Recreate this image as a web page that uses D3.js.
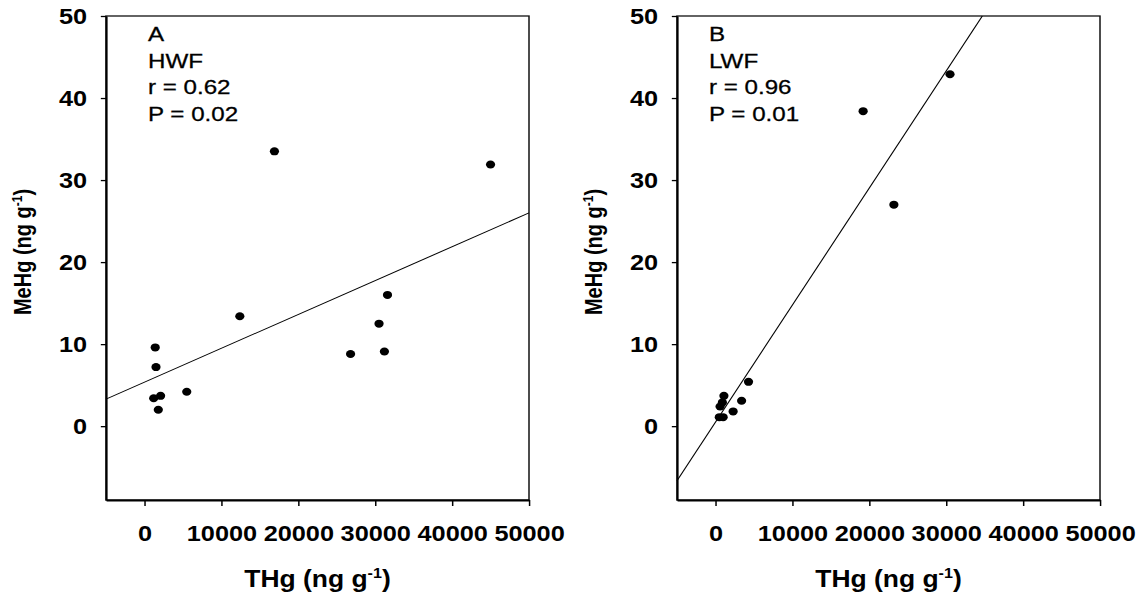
<!DOCTYPE html>
<html>
<head>
<meta charset="utf-8">
<script src="https://cdn.jsdelivr.net/npm/d3@7"></script>
<style>
    body { margin: 0; background: #fff; }
    text { font-family: Arial, "Liberation Sans", sans-serif; fill: #000; }
</style>
</head>
<body>
<div id="chart"></div>
<script>
// values
const xTicks = [0, 10000, 20000, 30000, 40000, 50000]
const yTicks = [0, 10, 20, 30, 40, 50]
const xDomain = [-5000, 50000]
const yDomain = [-9, 50]

const hwfTHg = [16900, 45000, 31600, 12400, 30500, 31200, 26800, 1400, 1500, 1200, 2100, 1800, 5500]
const hwfMeHg = [33.5, 31.9, 16.0, 13.4, 12.5, 9.1, 8.8, 9.6, 7.2, 3.4, 3.7, 2.0, 4.2]
const hwfFit = [[-5000, 3.3], [50000, 26.0]]
const hwfLabels = ["A", "HWF", "r = 0.62", "P = 0.02"]

const lwfTHg = [19200, 30500, 23200, 4300, 1100, 900, 600, 3400, 2300, 500, 1000]
const lwfMeHg = [38.4, 42.9, 27.0, 5.4, 3.7, 2.9, 2.4, 3.1, 1.8, 1.1, 1.1]
const lwfFit = [[-5000, -6.65], [34700, 50]]
const lwfLabels = ["B", "LWF", "r = 0.96", "P = 0.01"]

// the original picture is stretched sideways, so draw in a narrower viewBox
const SX = 1.15
const W = 1138, H = 596

const svg = d3.select("#chart")
    .append("svg")
    .attr("width", W)
    .attr("height", H)
    .attr("viewBox", `0 0 ${W / SX} ${H}`)
    .attr("preserveAspectRatio", "none")

function drawPanel(opts) {
    const left = opts.left / SX, right = opts.right / SX
    const top = 16, bottom = 500

    const x = d3.scaleLinear().domain(xDomain).range([left, right])
    const y = d3.scaleLinear().domain(yDomain).range([bottom, top])

    const g = svg.append("g")

    // frame
    g.append("rect")
        .attr("x", left).attr("y", top)
        .attr("width", right - left).attr("height", bottom - top)
        .attr("fill", "none")
        .attr("stroke", "#111")
        .attr("stroke-width", 1.3)

    const xAxis = g.append("g")
        .attr("transform", `translate(0,${bottom})`)
        .call(d3.axisBottom(x).tickValues(xTicks).tickFormat(d3.format("d"))
            .tickSize(6).tickSizeOuter(0).tickPadding(19))
    const yAxis = g.append("g")
        .attr("transform", `translate(${left},0)`)
        .call(d3.axisLeft(y).tickValues(yTicks).tickFormat(d3.format("d"))
            .tickSize(4.5).tickSizeOuter(0).tickPadding(12))

    ;[xAxis, yAxis].forEach(ax => {
        ax.select(".domain").attr("stroke", "#000").attr("stroke-width", 1.8)
        ax.selectAll(".tick line").attr("stroke", "#000").attr("stroke-width", 1.3)
        ax.selectAll(".tick text")
            .attr("fill", "#000")
            .style("font-size", "22px")
            .style("font-weight", "bold")
    })

    // fitted line
    g.append("path")
        .datum(opts.fit)
        .attr("d", d3.line().x(d => x(d[0])).y(d => y(d[1])))
        .attr("fill", "none")
        .attr("stroke", "#000")
        .attr("stroke-width", 1)

    // points
    g.append("g")
        .selectAll("circle")
        .data(opts.xs.map((v, i) => [v, opts.ys[i]]))
        .enter()
        .append("circle")
        .attr("cx", d => x(d[0]))
        .attr("cy", d => y(d[1]))
        .attr("r", 4)
        .attr("fill", "#000")

    // annotation
    g.append("g")
        .selectAll("text")
        .data(opts.labels)
        .enter()
        .append("text")
        .attr("x", opts.noteX / SX)
        .attr("y", (d, i) => 41 + i * 26.7)
        .style("font-size", "21px")
        .style("stroke", "#000")
        .style("stroke-width", 0.3)
        .text(d => d)

    // x title
    const xt = g.append("text")
        .attr("x", (left + right) / 2)
        .attr("y", 587)
        .attr("text-anchor", "middle")
        .style("font-size", "23px")
        .style("font-weight", "bold")
    xt.append("tspan").text("THg (ng g")
    xt.append("tspan").attr("dy", -9).style("font-size", "14px").text("-1")
    xt.append("tspan").attr("dy", 9).text(")")

    // y title
    const yt = g.append("text")
        .attr("transform", `translate(${(opts.left - 75) / SX},252) rotate(-90)`)
        .attr("text-anchor", "middle")
        .style("font-size", "20px")
        .style("font-weight", "bold")
    yt.append("tspan").text("MeHg (ng g")
    yt.append("tspan").attr("dy", -8).style("font-size", "12px").text("-1")
    yt.append("tspan").attr("dy", 8).text(")")
}

drawPanel({left: 106, right: 529, noteX: 148, xs: hwfTHg, ys: hwfMeHg, fit: hwfFit, labels: hwfLabels})
drawPanel({left: 677, right: 1100, noteX: 709, xs: lwfTHg, ys: lwfMeHg, fit: lwfFit, labels: lwfLabels})
</script>
</body>
</html>
